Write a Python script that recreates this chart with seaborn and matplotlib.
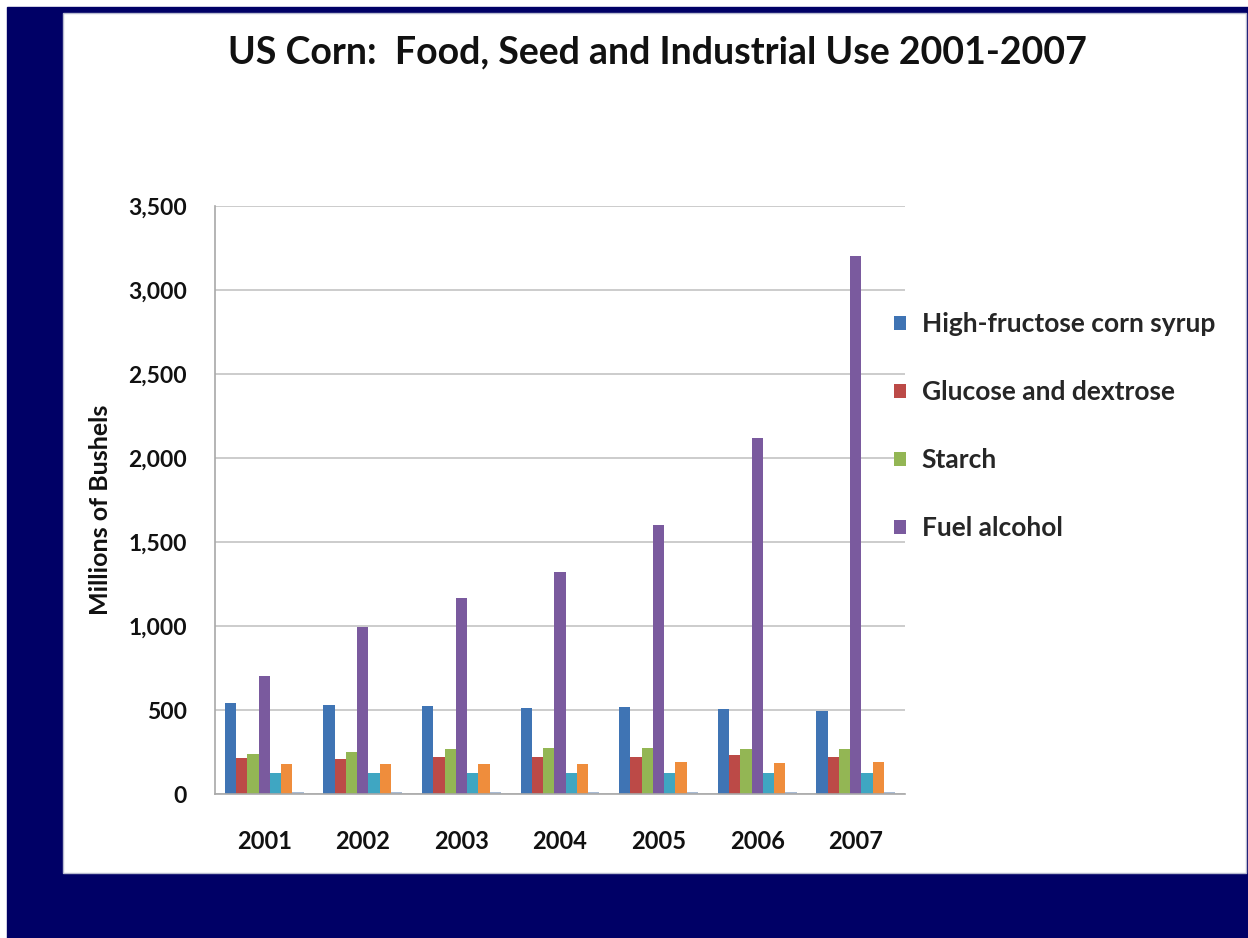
import matplotlib
matplotlib.use("Agg")
import matplotlib.pyplot as plt
import matplotlib.patches as mpatches
from matplotlib.ticker import FixedLocator, FuncFormatter
import seaborn as sns
import pandas as pd

years = ["2001", "2002", "2003", "2004", "2005", "2006", "2007"]
series_names = ["High-fructose corn syrup", "Glucose and dextrose", "Starch",
                "Fuel alcohol", "Beverage alcohol", "Cereals and other products", "Seed"]
hfcs = [539, 527, 526, 511, 515, 505, 497]
glucose = [213, 210, 222, 219, 223, 230, 222]
starch = [240, 248, 266, 271, 273, 268, 267]
fuel_alcohol = [705, 996, 1168, 1323, 1603, 2119, 3200]
beverage = [125, 126, 126, 124, 125, 126, 124]
cereals = [180, 180, 180, 180, 188, 187, 188]
seed = [12, 12, 12, 12, 12, 12, 12]
legend_shown = 4

colors = ["#3f74b4", "#bc4a47", "#93b654", "#7a5a9e", "#3fa6c2", "#ef8d3c", "#a9bbd3"]

values = [hfcs, glucose, starch, fuel_alcohol, beverage, cereals, seed]
rows = []
for name, vals in zip(series_names, values):
    for y, v in zip(years, vals):
        rows.append({"year": y, "series": name, "value": v})
df = pd.DataFrame(rows)

sns.set_style("white")
plt.rcParams["font.family"] = ["Lato", "DejaVu Sans"]

W, H = 1248, 938
fig = plt.figure(figsize=(W / 100, H / 100), dpi=100, facecolor="white")

navy = "#000066"
fig.patches.append(mpatches.Rectangle((7 / W, 0), 1 - 7 / W, 1 - 7 / H,
                                      transform=fig.transFigure, color=navy, zorder=-10))
fig.patches.append(mpatches.Rectangle((63 / W, 1 - 873 / H), (1246 - 63) / W, (873 - 13) / H,
                                      transform=fig.transFigure, facecolor="white",
                                      edgecolor="#b8bcd0", linewidth=1, zorder=-9))

ax = fig.add_axes([215 / W, 1 - 794 / H, (905 - 215) / W, (794 - 206) / H])
ax.set_zorder(2)
ax.set_facecolor("none")
sns.barplot(data=df, x="year", y="value", hue="series", palette=colors,
            width=0.8, saturation=1, gap=0, ax=ax, linewidth=0, legend=True)

ax.set_ylim(0, 3500)
ax.set_xlim(-0.5, len(years) - 0.5)
ax.yaxis.set_major_locator(FixedLocator(range(0, 3501, 500)))
ax.yaxis.set_major_formatter(FuncFormatter(lambda v, p: f"{int(v):,}"))
ax.grid(axis="y", color="#c4c4c4", linewidth=1.2)
ax.set_axisbelow(True)
for s in ["top", "right"]:
    ax.spines[s].set_visible(False)
for s in ["left", "bottom"]:
    ax.spines[s].set_color("#a8a8a8")
    ax.spines[s].set_linewidth(1.2)

ax.set_xticks(range(len(years)))
ax.set_xticklabels(years)
ax.set_xticks([i - 0.5 for i in range(len(years) + 1)], minor=True)
ax.tick_params(axis="x", which="major", length=0, pad=26, labelsize=17)
ax.tick_params(axis="x", which="minor", length=8, color="#a8a8a8", width=1.2, direction="out")
ax.tick_params(axis="y", length=5, color="#a8a8a8", width=1.2, pad=15, labelsize=16.5)
for lab in ax.get_xticklabels() + ax.get_yticklabels():
    lab.set_fontweight("bold")
    lab.set_color("#111111")
ax.set_xlabel("")
ax.set_ylabel("")

handles, labels = ax.get_legend_handles_labels()
ax.legend(handles[:legend_shown], labels[:legend_shown], loc="upper left",
          bbox_to_anchor=(881 / W, 1 - 299 / H), bbox_transform=fig.transFigure,
          frameon=False, borderpad=0, labelspacing=1.67, handlelength=0.45,
          handleheight=0.45, handletextpad=0.6,
          prop={"family": ["Lato", "DejaVu Sans"], "weight": "bold", "size": 19})

fig.text(100 / W, 1 - 510 / H, "Millions of Bushels", rotation=90, ha="center", va="center",
         fontsize=18, fontweight="bold", color="#111111")
fig.text(657 / W, 1 - 52 / H, "US Corn:  Food, Seed and Industrial Use 2001-2007",
         ha="center", va="center", fontsize=27, fontweight="bold", color="#111111")

fig.savefig("out.png", dpi=100, facecolor="white")
